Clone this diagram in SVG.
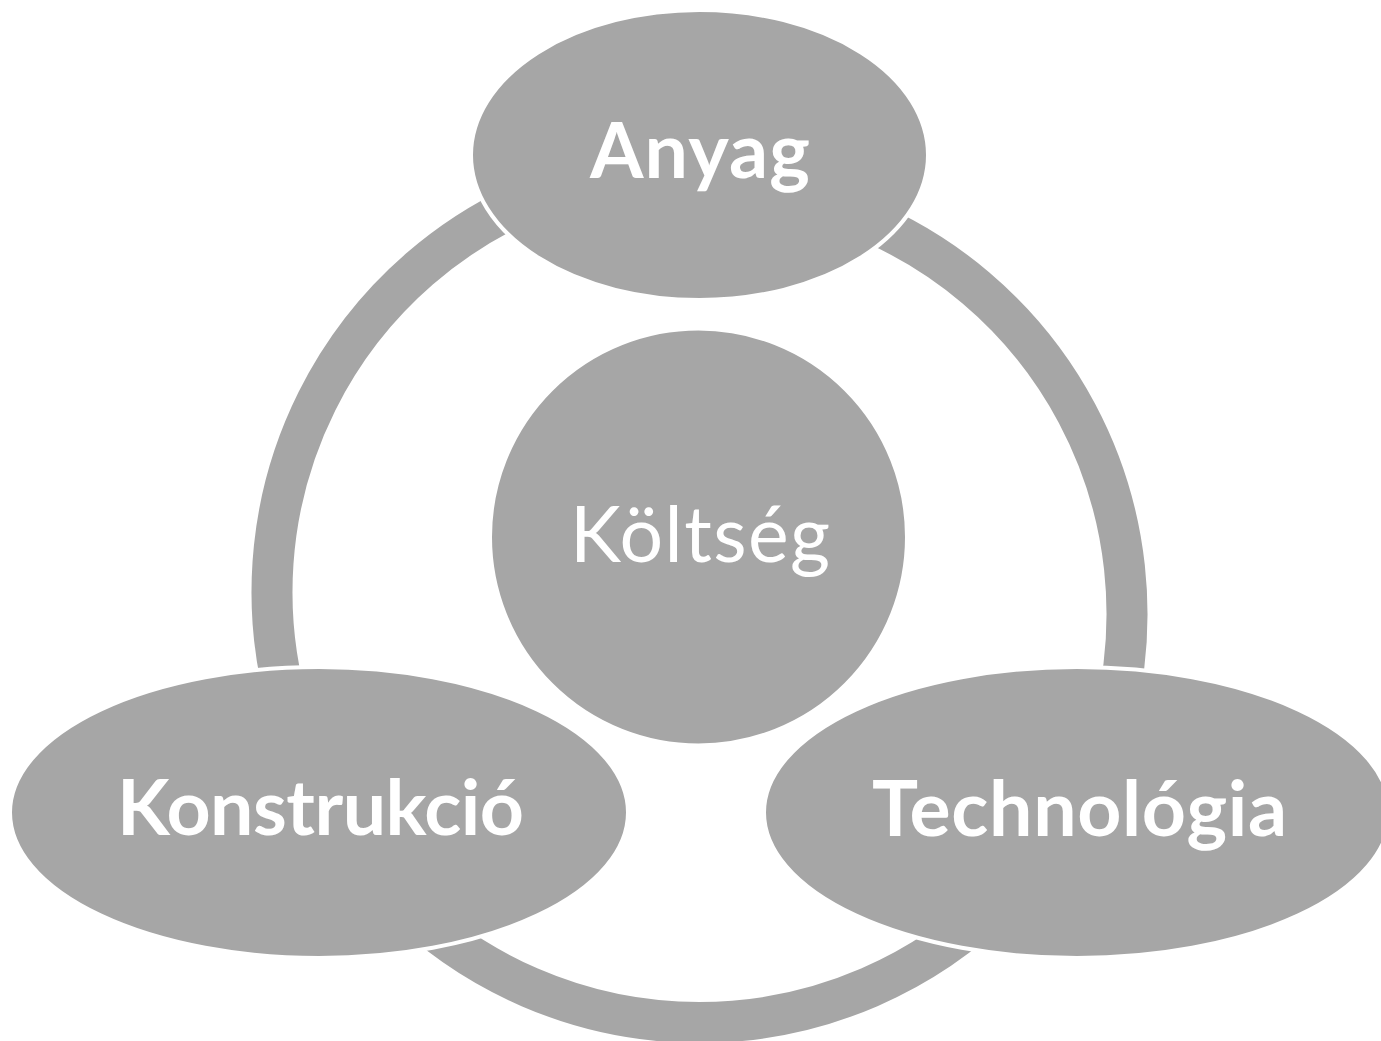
<svg xmlns="http://www.w3.org/2000/svg" width="1381" height="1041" viewBox="0 0 1381 1041">
  <style>
    .ring { fill: none; stroke: #A6A6A6; stroke-width: 41; stroke-linecap: butt; }
    .shape { fill: #A6A6A6; stroke: #FFFFFF; stroke-width: 4; }
    .label { fill: #FFFFFF; font-family: Lato, "Open Sans", "Liberation Sans", sans-serif; font-size: 77px; text-anchor: middle; }
    .bold { font-weight: bold; }
  </style>
  <rect x="0" y="0" width="1381" height="1041" fill="#FFFFFF"/>

  <!-- ring segments running between the outer nodes -->
  <g id="connectors">
    <path class="ring" d="M 553.29 190.28 A 427.5 427.5 0 0 0 290.68 716.99"/>
    <path class="ring" d="M 845.71 212.28 A 427.5 427.5 0 0 1 1114.30 717.42"/>
    <path class="ring" d="M 1001.79 897.29 A 427.5 427.5 0 0 1 397.21 897.29"/>
  </g>

  <g id="node-koltseg">
    <circle class="shape" cx="698.5" cy="537" r="208.5"/>
    <text class="label" x="700" y="562" textLength="260">Költség</text>
  </g>

  <g id="node-anyag">
    <ellipse class="shape" cx="699.5" cy="155" rx="228.5" ry="145"/>
    <text class="label bold" x="700" y="178" textLength="220">Anyag</text>
  </g>

  <g id="node-konstrukcio">
    <ellipse class="shape" cx="319" cy="812.5" rx="309" ry="145.5"/>
    <text class="label bold" x="320.5" y="835" textLength="407">Konstrukció</text>
  </g>

  <g id="node-technologia">
    <ellipse class="shape" cx="1077" cy="812.5" rx="313" ry="145.5"/>
    <text class="label bold" x="1079.5" y="836" textLength="415">Technológia</text>
  </g>
</svg>
